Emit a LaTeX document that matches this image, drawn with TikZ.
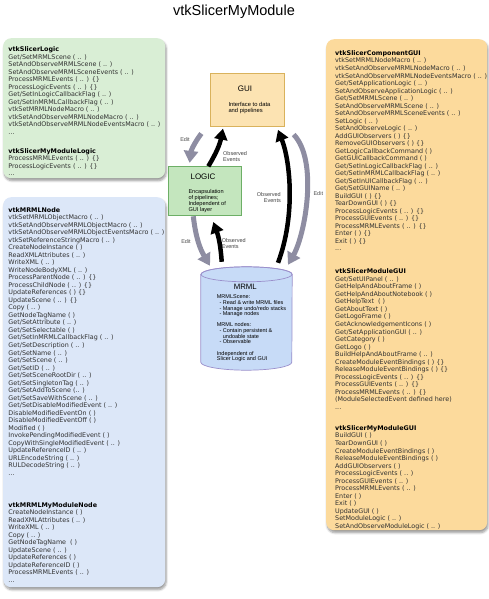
\documentclass[tikz,border=0pt]{standalone}
\usepackage{fontspec}
\setmainfont{DejaVu Sans}
\newfontfamily\hfont{Liberation Sans}
\usetikzlibrary{arrows.meta,shadows.blur}
\definecolor{greenbg}{HTML}{D9EED5}
\definecolor{bluebg}{HTML}{DCE7F8}
\definecolor{orangebg}{HTML}{FCDA9C}
\definecolor{guifill}{HTML}{FCE3B2}
\definecolor{guiline}{HTML}{D9B25C}
\definecolor{logicfill}{HTML}{C4E6BE}
\definecolor{logicline}{HTML}{6DAF66}
\definecolor{mrmlfill}{HTML}{C7DBF7}
\definecolor{mrmlline}{HTML}{9A8FCB}
\definecolor{editgray}{HTML}{8E8DA2}
\definecolor{itemtext}{HTML}{303030}
\newcommand{\hd}[1]{{\bfseries\color{black}#1}}
\newcommand{\listblock}[1]{\begin{minipage}[t]{160pt}\fontsize{6.38}{7.52}\selectfont\color{itemtext}#1\end{minipage}}
\newcommand{\smallblock}[3]{\begin{minipage}[t]{#1}\hfont\fontsize{#2}{#3}\selectfont}
\begin{document}
\begin{tikzpicture}[x=1pt,y=1pt,
  sidebox/.style={rounded corners=8pt, inner sep=0pt, anchor=north west,
    blur shadow={shadow xshift=1pt,shadow yshift=-2.5pt,shadow blur steps=6,shadow opacity=40}},
  listtext/.style={anchor=base west, inner sep=0pt},
  obsarrow/.style={line width=4.5pt, black, -{Triangle[width=13pt,length=11pt]}},
  editarrow/.style={line width=5pt, editgray, -{Triangle[width=14pt,length=12pt]}},
  lbl/.style={font=\hfont\fontsize{5.5}{6}\selectfont, text=black!70, inner sep=0pt},
  centerbox/.style={line width=0.7pt, inner sep=0pt}]
\useasboundingbox (0,0) rectangle (489,-599);

\node[font=\hfont\fontsize{14.5}{16}\selectfont, inner sep=0pt] (title) at (234,-11.5) {vtkSlicerMyModule};

% side panels
\node[sidebox, fill=greenbg, minimum width=162pt, minimum height=140pt] (logicpanel) at (3,-38) {};
\node[sidebox, fill=bluebg, minimum width=162pt, minimum height=390pt] (mrmlpanel) at (3,-197) {};
\node[sidebox, fill=orangebg, minimum width=161pt, minimum height=491pt] (guipanel) at (326,-39) {};

% green panel text
\node[listtext] (lg1) at (8.3,-46.8) {\listblock{\hd{vtkSlicerLogic}\\
Get/SetMRMLScene ( .. )\\
SetAndObserveMRMLScene ( .. )\\
SetAndObserveMRMLSceneEvents ( .. )\\
ProcessMRMLEvents ( .. ) \{\}\\
ProcessLogicEvents ( .. ) \{\}\\
Get/SetInLogicCallbackFlag ( .. )\\
Get/SetInMRMLCallbackFlag ( .. )\\
vtkSetMRMLNodeMacro ( .. )\\
vtkSetAndObserveMRMLNodeMacro ( .. )\\
vtkSetAndObserveMRMLNodeEventsMacro ( .. )\\
...}};
\node[listtext] (lg2) at (8.3,-148.3) {\listblock{\hd{vtkSlicerMyModuleLogic}\\
ProcessMRMLEvents ( .. ) \{\}\\
ProcessLogicEvents ( .. ) \{\}\\
...}};

% blue panel text
\node[listtext] (lb1) at (8.3,-207.3) {\listblock{\hd{vtkMRMLNode}\\
vtkSetMRMLObjectMacro ( .. )\\
vtkSetAndObserveMRMLObjectMacro ( .. )\\
vtkSetAndObserveMRMLObjectEventsMacro ( .. )\\
vtkSetReferenceStringMacro ( .. )\\
CreateNodeInstance ( )\\
ReadXMLAttributes ( .. )\\
WriteXML ( .. )\\
WriteNodeBodyXML ( .. )\\
ProcessParentNode ( .. ) \{\}\\
ProcessChildNode ( .. ) \{\}\\
UpdateReferences ( ) \{\}\\
UpdateScene ( .. ) \{\}\\
Copy ( .. )\\
GetNodeTagName ( )\\
Get/SetAttribute ( .. )\\
Get/SetSelectable ( )\\
Get/SetInMRMLCallbackFlag ( .. )\\
Get/SetDescription ( .. )\\
Get/SetName ( .. )\\
Get/SetScene ( .. )\\
Get/SetID ( .. )\\
Get/SetSceneRootDir ( .. )\\
Get/SetSingletonTag ( .. )\\
Get/SetAddToScene (.. )\\
Get/SetSaveWithScene ( .. )\\
Get/SetDisableModifiedEvent ( .. )\\
DisableModifiedEventOn ( )\\
DisableModifiedEventOff ( )\\
Modified ( )\\
InvokePendingModifiedEvent ( )\\
CopyWithSingleModifiedEvent ( .. )\\
UpdateReferenceID ( .. )\\
URLEncodeString ( .. )\\
RULDecodeString ( .. )\\
...}};
\node[listtext] (lb2) at (8.3,-502.3) {\listblock{\hd{vtkMRMLMyModuleNode}\\
CreateNodeInstance ( )\\
ReadXMLAttributes ( .. )\\
WriteXML ( .. )\\
Copy ( .. )\\
GetNodeTagName\ \ ( )\\
UpdateScene ( .. )\\
UpdateReferences ( )\\
UpdateReferenceID ( )\\
ProcessMRMLEvents ( .. )\\
...}};

% orange panel text
\node[listtext] (lo1) at (335,-50.6) {\listblock{\hd{vtkSlicerComponentGUI}\\
vtkSetMRMLNodeMacro ( .. )\\
vtkSetAndObserveMRMLNodeMacro ( .. )\\
vtkSetAndObserveMRMLNodeEventsMacro ( .. )\\
Get/SetApplicationLogic ( .. )\\
SetAndObserveApplicationLogic ( .. )\\
Get/SetMRMLScene ( .. )\\
SetAndObserveMRMLScene ( .. )\\
SetAndObserveMRMLSceneEvents ( .. )\\
SetLogic ( .. )\\
SetAndObserveLogic ( .. )\\
AddGUIObservers ( ) \{\}\\
RemoveGUIObservers ( ) \{\}\\
GetLogicCallbackCommand ( )\\
GetGUICallbackCommand ( )\\
Get/SetInLogicCallbackFlag ( .. )\\
Get/SetInMRMLCallbackFlag ( .. )\\
Get/SetInUICallbackFlag ( .. )\\
Get/SetGUIName ( .. )\\
BuildGUI ( ) \{\}\\
TearDownGUI ( ) \{\}\\
ProcessLogicEvents ( .. ) \{\}\\
ProcessGUIEvents ( .. ) \{\}\\
ProcessMRMLEvents ( .. ) \{\}\\
Enter ( ) \{\}\\
Exit ( ) \{\}\\
...}};
\node[listtext] (lo2) at (335,-269) {\listblock{\hd{vtkSlicerModuleGUI}\\
Get/SetUIPanel ( .. )\\
GetHelpAndAboutFrame ( )\\
GetHelpAndAboutNotebook ( )\\
GetHelpText\ \ ( )\\
GetAboutText ( )\\
GetLogoFrame ( )\\
GetAcknowledgementIcons ( )\\
Get/SetApplicationGUI ( .. )\\
GetCategory ( )\\
GetLogo ( )\\
BuildHelpAndAboutFrame ( .. )\\
CreateModuleEventBindings ( ) \{\}\\
ReleaseModuleEventBindings ( ) \{\}\\
ProcessLogicEvents ( .. ) \{\}\\
ProcessGUIEvents ( .. ) \{\}\\
ProcessMRMLEvents ( .. ) \{\}\\
(ModuleSelectedEvent defined here)\\
...}};
\node[listtext] (lo3) at (335,-425.6) {\listblock{\hd{vtkSlicerMyModuleGUI}\\
BuildGUI ( )\\
TearDownGUI ( )\\
CreateModuleEventBindings ( )\\
ReleaseModuleEventBindings ( )\\
AddGUIObservers ( )\\
ProcessLogicEvents ( .. )\\
ProcessGUIEvents ( .. )\\
ProcessMRMLEvents ( .. )\\
Enter ( )\\
Exit ( )\\
UpdateGUI ( )\\
SetModuleLogic ( .. )\\
SetAndObserveModuleLogic ( .. )}};

% central boxes
\node[centerbox, draw=guiline, fill=guifill, minimum width=73.6pt, minimum height=53.4pt] (gui) at (247.5,-100) {};
\node[font=\hfont\fontsize{8}{9}\selectfont, inner sep=0pt] (guititle) at (245,-88.3) {GUI};
\node[listtext] (guidesc) at (228.3,-106.1) {\smallblock{50pt}{5.8}{6.2}Interface to data\\and pipelines\end{minipage}};

\node[centerbox, draw=logicline, fill=logicfill, minimum width=73.4pt, minimum height=48.3pt] (logic) at (205,-190.8) {};
\node[font=\hfont\fontsize{8}{9}\selectfont, inner sep=0pt] (logictitle) at (203,-176.7) {LOGIC};
\node[listtext] (logicdesc) at (188.3,-193.7) {\smallblock{50pt}{5.6}{5.85}Encapsulation\\of pipelines;\\Independent of\\GUI layer\end{minipage}};

% MRML cylinder
\node[minimum width=91pt, minimum height=87.5pt, inner sep=0pt] (mrml) at (246.5,-318.25) {};
\path[fill=mrmlfill, draw=mrmlline, line width=0.7pt] (mrml.north west) -- (mrml.south west)
  arc[start angle=180, end angle=360, x radius=45.5pt, y radius=8pt] -- (mrml.north east)
  arc[start angle=0, end angle=180, x radius=45.5pt, y radius=7.5pt] -- cycle;
\draw[mrmlline, line width=0.7pt] (mrml.north) ellipse[x radius=45.5pt, y radius=7.5pt];
\node[font=\hfont\fontsize{7.8}{9}\selectfont, inner sep=0pt] (mrmltitle) at (245.3,-287.3) {MRML};
\node[listtext] (mrmldesc) at (216.7,-298.7) {\smallblock{90pt}{5.5}{5.65}MRMLScene:\\
\hspace*{2.6pt}- Read \& write MRML files\\
\hspace*{2.6pt}- Manage undo/redo stacks\\
\hspace*{2.6pt}- Manage nodes\\[5.65pt]
MRML nodes:\\
\hspace*{2.6pt}- Contain persistent \&\\
\hspace*{6pt}undoable state\\
\hspace*{2.6pt}- Observable\\[5.65pt]
Independent of\\
Slicer Logic and GUI\end{minipage}};

% connectors
\draw[editarrow] ([shift={(-9pt,-6.5pt)}]gui.south west) to[bend right=15] ([shift={(21.7pt,3.4pt)}]logic.north west);
\draw[obsarrow] ([xshift=3.3pt]logic.north) to[bend right=10] ([shift={(12.6pt,-1.6pt)}]gui.south west);
\draw[obsarrow] ([shift={(31.5pt,11.5pt)}]mrml.north) .. controls +(18pt,48pt) and +(12pt,-30.5pt) .. ([shift={(30.5pt,-2.8pt)}]gui.south);
\draw[editarrow] ([shift={(9pt,-7.5pt)}]gui.south east) .. controls +(25pt,-26pt) and +(17pt,30pt) .. ([shift={(41.5pt,9.5pt)}]mrml.north);
\draw[editarrow] ([shift={(-11.7pt,-1pt)}]logic.south) to[bend right=12] ([shift={(-36.5pt,8.5pt)}]mrml.north);
\draw[obsarrow] ([shift={(-24.8pt,12.5pt)}]mrml.north) to[bend right=8] ([shift={(8.3pt,-6.7pt)}]logic.south);

% connector labels
\node[lbl] (edit1) at (185,-139.3) {Edit};
\node[listtext] (obs1) at (223,-152) {\smallblock{30pt}{5.5}{6}\color{black!75}Observed\\Events\end{minipage}};
\node[anchor=base east, inner sep=0pt] (obs2) at (281,-192.7) {\smallblock{30pt}{5.5}{6}\raggedleft\color{black!75}Observed\\Events\end{minipage}};
\node[lbl] (edit2) at (318.3,-194) {Edit};
\node[lbl] (edit3) at (186,-241.7) {Edit};
\node[listtext] (obs3) at (221.7,-238.7) {\smallblock{30pt}{5.5}{6}\color{black!75}Observed\\Events\end{minipage}};
\end{tikzpicture}
\end{document}
